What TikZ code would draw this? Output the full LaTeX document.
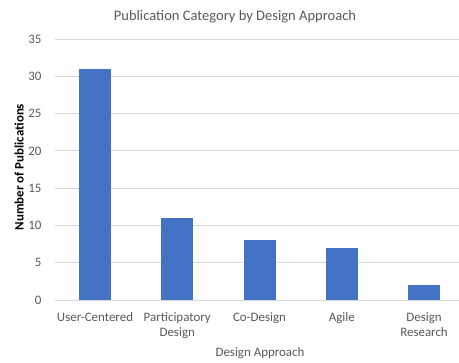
\documentclass[tikz,border=0pt]{standalone}
\usepackage{fontspec}
\setmainfont{Carlito}
\definecolor{barblue}{HTML}{4472C4}
\definecolor{gridgray}{HTML}{D9D9D9}
\definecolor{textgray}{HTML}{595959}
\tikzset{every picture/.style={line width=0.75pt}}
\tikzset{
  gridline/.style={draw=gridgray, line width=0.75pt},
  barshape/.style={fill=barblue, draw=none},
  ticklabel/.style={anchor=east, inner sep=0.75pt, text=textgray, font=\fontsize{9.7}{11}\selectfont},
  catlabel/.style={anchor=north, inner sep=0.75pt, text=textgray, align=center, font=\fontsize{9.7}{11.3}\selectfont},
  axistitle/.style={anchor=base, inner sep=0.75pt, font=\fontsize{9.7}{11}\selectfont},
  charttitle/.style={anchor=base, inner sep=0.75pt, text=textgray, font=\fontsize{10.9}{13}\selectfont}
}

\begin{document}
\begin{tikzpicture}[x=0.75pt,y=0.75pt,yscale=-1,xscale=1]
\useasboundingbox (0,0) rectangle (459,362);

%Gridlines and tick labels
\foreach \v in {0,5,...,35} {
  \draw [gridline] (55,300-\v*7.457) -- (459,300-\v*7.457);
  \node [ticklabel] (tick\v) at (43,300-\v*7.457) {\v};
}

%Shape: Bars
\foreach \i/\val in {0/31,1/11,2/8,3/7,4/2} {
  \path [barshape] (79+\i*82.25,300) rectangle (111+\i*82.25,300-\val*7.457);
}

% Text Node
\node [catlabel] (catuser) at (95,311) {User-Centered};
% Text Node
\node [catlabel] (catpart) at (177.25,311) {Participatory\\Design};
% Text Node
\node [catlabel] (catco) at (259.5,311) {Co-Design};
% Text Node
\node [catlabel] (catagile) at (341.75,311) {Agile};
% Text Node
\node [catlabel] (catresearch) at (424,311) {Design\\Research};

% Text Node
\node [charttitle] (title) at (235,20.5) {Publication Category by Design Approach};
% Text Node
\node [axistitle, text=textgray] (xtitle) at (260,356.5) {Design Approach};
% Text Node
\node [axistitle, rotate=90, font=\fontsize{9.7}{11}\selectfont\bfseries] (ytitle) at (23.5,167) {Number of Publications};

\end{tikzpicture}
\end{document}
